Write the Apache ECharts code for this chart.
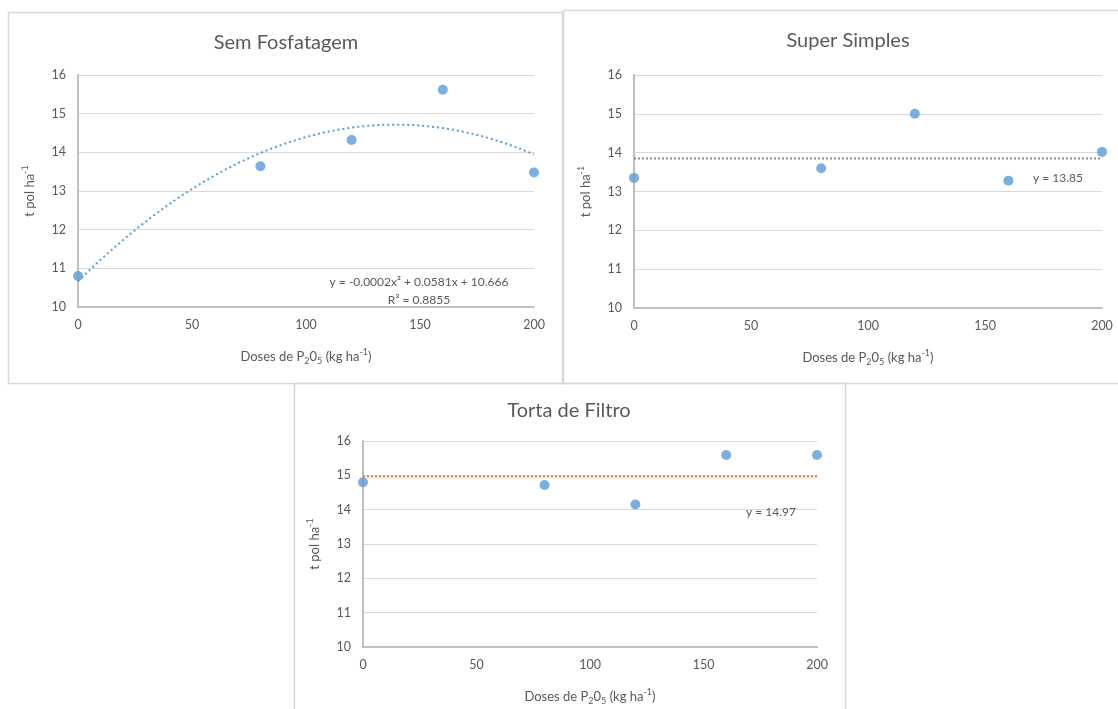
<!DOCTYPE html>
<html>
<head>
<meta charset="utf-8">
<script src="https://cdn.jsdelivr.net/npm/echarts@6/dist/echarts.min.js"></script>
<style>
html,body{margin:0;padding:0;background:#fff;}
#chart{width:1118px;height:709px;}
</style>
</head>
<body>
<div id="chart"></div>
<script>
// ---- data ----
const doses = [0, 80, 120, 160, 200];
const semFosfatagem = [10.8, 13.64, 14.32, 15.62, 13.48];
const superSimples = [13.35, 13.6, 15.0, 13.28, 14.02];
const tortaFiltro = [14.8, 14.72, 14.15, 15.59, 15.59];
const yTicks = [10, 11, 12, 13, 14, 15, 16];
const xTicks = [0, 50, 100, 150, 200];
const panelTitles = ['Sem Fosfatagem', 'Super Simples', 'Torta de Filtro'];
const eqQuad = 'y = -0.0002x² + 0.0581x + 10.666';
const eqR2 = 'R² = 0.8855';
const eqSS = 'y = 13.85';
const eqTF = 'y = 14.97';
const xName = '{n|Doses de P}{s|2}{n|0}{s|5}{n| (kg ha}{p|-1}{n|)}';
const yName = '{n|t pol ha}{p|-1}';

// ---- trendlines computed from the data ----
function quadFit(xs, ys) {
  let S = [0,0,0,0,0], T = [0,0,0];
  for (let i = 0; i < xs.length; i++) {
    let p = 1;
    for (let k = 0; k < 5; k++) { S[k] += p; if (k < 3) T[k] += p * ys[i]; p *= xs[i]; }
  }
  let A = [[S[0],S[1],S[2],T[0]],[S[1],S[2],S[3],T[1]],[S[2],S[3],S[4],T[2]]];
  for (let i = 0; i < 3; i++) {
    for (let j = i + 1; j < 3; j++) {
      const f = A[j][i] / A[i][i];
      for (let k = i; k < 4; k++) A[j][k] -= f * A[i][k];
    }
  }
  const c = [0,0,0];
  for (let i = 2; i >= 0; i--) {
    let s = A[i][3];
    for (let k = i + 1; k < 3; k++) s -= A[i][k] * c[k];
    c[i] = s / A[i][i];
  }
  return c; // c0 + c1 x + c2 x^2
}
const qc = quadFit(doses, semFosfatagem);
const curve = [];
for (let x = 0; x <= 200; x += 2) curve.push([x, qc[0] + qc[1] * x + qc[2] * x * x]);
const mean = a => a.reduce((s, v) => s + v, 0) / a.length;
const ssMean = mean(superSimples), tfMean = mean(tortaFiltro);

const FONT = 'Lato, "Open Sans", sans-serif';
const TXT = '#595959';
const grids = [
  {left: 78, top: 75, width: 456, height: 232},
  {left: 634, top: 75, width: 468, height: 233},
  {left: 363, top: 441, width: 454, height: 206}
];
const richName = {
  n: {color: TXT, fontSize: 13, fontFamily: FONT, lineHeight: 18, verticalAlign: 'middle'},
  s: {color: TXT, fontSize: 9, fontFamily: FONT, lineHeight: 18, verticalAlign: 'bottom'},
  p: {color: TXT, fontSize: 9, fontFamily: FONT, lineHeight: 18, verticalAlign: 'top'}
};
function xAxis(i) {
  return {
    gridIndex: i, type: 'value', min: 0, max: 200, interval: 50,
    name: xName, nameLocation: 'middle', nameGap: 41,
    nameTextStyle: {color: TXT, fontSize: 13, fontFamily: FONT, rich: richName},
    axisLine: {show: true, onZero: false, lineStyle: {color: '#BFBFBF', width: 2}},
    axisTick: {show: false},
    axisLabel: {color: TXT, fontSize: 12.5, fontFamily: FONT, margin: 11},
    splitLine: {show: false}
  };
}
function yAxis(i) {
  return {
    gridIndex: i, type: 'value', min: 10, max: 16, interval: 1,
    name: yName, nameLocation: 'middle', nameGap: 39, nameRotate: 90,
    nameTextStyle: {color: TXT, fontSize: 13, fontFamily: FONT, rich: richName},
    axisLine: {show: true, lineStyle: {color: '#BFBFBF', width: 2}},
    axisTick: {show: false},
    axisLabel: {color: TXT, fontSize: 12.5, fontFamily: FONT, margin: 12},
    splitLine: {show: true, lineStyle: {color: '#D9D9D9', width: 1}}
  };
}
const pts = arr => doses.map((d, i) => [d, arr[i]]);
const scatterStyle = {color: '#5B9BD5'};
function scatter(i, arr) {
  return {type: 'scatter', xAxisIndex: i, yAxisIndex: i, data: pts(arr),
    symbolSize: 10, itemStyle: scatterStyle, clip: false, z: 5};
}
function hline(i, v, color) {
  return {type: 'line', xAxisIndex: i, yAxisIndex: i, data: [[0, v], [200, v]],
    showSymbol: false, silent: true, z: 3,
    lineStyle: {color: color, width: 2, type: [2, 2]}};
}

const chart = echarts.init(document.getElementById('chart'), null, {renderer: 'canvas'});
const textEl = (text, x, y, size, align) => ({
  type: 'text', silent: true, z: 10,
  style: {text: text, x: x, y: y, fill: TXT, font: size + 'px ' + FONT,
    textAlign: align || 'center', textVerticalAlign: 'middle'}
});
const border = (x, y, w, h) => ({
  type: 'rect', silent: true, z: -1,
  shape: {x: x, y: y, width: w, height: h},
  style: {fill: 'none', stroke: '#D9D9D9', lineWidth: 1.5}
});
chart.setOption({
  backgroundColor: '#fff',
  animation: false,
  grid: grids,
  xAxis: [xAxis(0), xAxis(1), xAxis(2)],
  yAxis: [yAxis(0), yAxis(1), yAxis(2)],
  series: [
    {type: 'line', xAxisIndex: 0, yAxisIndex: 0, data: curve, showSymbol: false,
      smooth: false, silent: true, z: 3,
      lineStyle: {color: '#5B9BD5', width: 2, type: [2, 3]}},
    scatter(0, semFosfatagem),
    hline(1, ssMean, '#8C8C8C'),
    scatter(1, superSimples),
    hline(2, tfMean, '#ED7D31'),
    scatter(2, tortaFiltro)
  ],
  graphic: [
    border(8.5, 12.5, 554, 371),
    border(563.5, 10.5, 560, 373),
    border(294.5, 383.5, 551, 400),
    textEl(panelTitles[0], 286, 43, 20),
    textEl(panelTitles[1], 848, 41, 20),
    textEl(panelTitles[2], 569, 411, 20),
    textEl(eqQuad, 419, 282, 12),
    textEl(eqR2, 419, 300, 12),
    textEl(eqSS, 1033, 178, 12, 'left'),
    textEl(eqTF, 746, 512, 12, 'left')
  ]
});
</script>
</body>
</html>
